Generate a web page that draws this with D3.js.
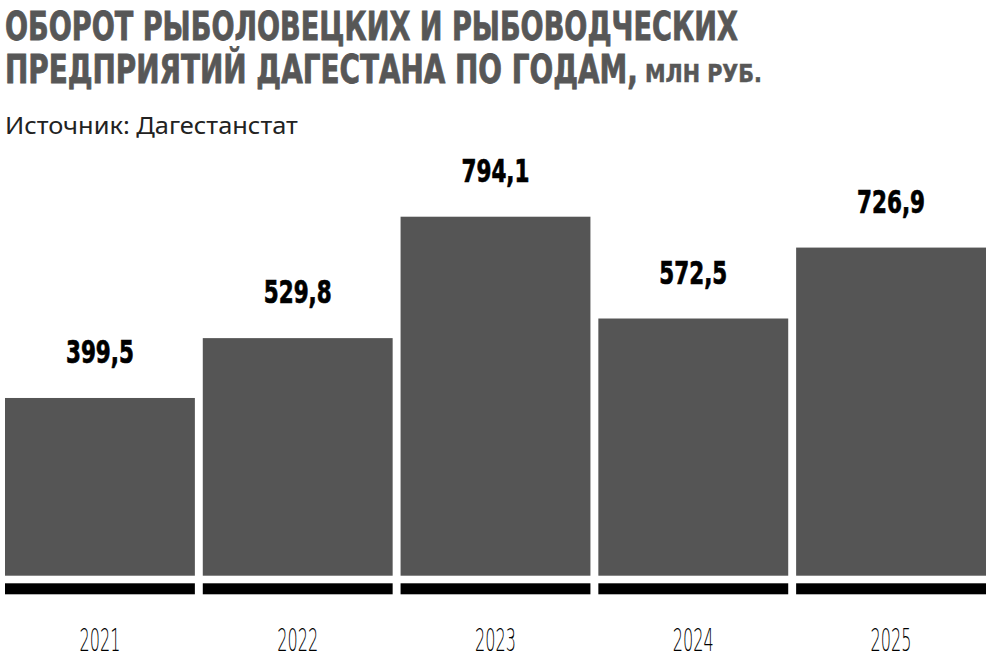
<!DOCTYPE html>
<html>
<head>
<meta charset="utf-8">
<script src="https://cdn.jsdelivr.net/npm/d3@7"></script>
<style>
  body { margin: 0; background: #fff; }
  svg { display: block; }
</style>
</head>
<body>
<div id="chart"></div>
<script>
// data
var years = ["2021", "2022", "2023", "2024", "2025"];
var values = [399.5, 529.8, 794.1, 572.5, 726.9];
var valueLabels = ["399,5", "529,8", "794,1", "572,5", "726,9"];

var titleLine1 = "ОБОРОТ РЫБОЛОВЕЦКИХ И РЫБОВОДЧЕСКИХ";
var titleLine2 = "ПРЕДПРИЯТИЙ ДАГЕСТАНА ПО ГОДАМ,";
var titleUnit = "МЛН РУБ.";
var sourceText = "Источник: Дагестанстат";

var width = 1000, height = 667;
var barBottom = 575.7;
var boldFont = "'Liberation Sans Narrow', 'DejaVu Sans Condensed', Arial, sans-serif";

var svg = d3.select("#chart")
    .append("svg")
    .attr("width", width)
    .attr("height", height);

// squeeze a text horizontally so it spans w pixels from its anchor
function squeeze(sel, x, y, w, anchor) {
    sel.each(function() {
        var natural = this.getComputedTextLength();
        var k = w / natural;
        d3.select(this)
            .attr("x", 0).attr("y", 0)
            .attr("text-anchor", anchor || "start")
            .attr("transform", "translate(" + x + "," + y + ") scale(" + k + ",1)");
    });
}

// title
var t1 = svg.append("text")
    .attr("font-family", boldFont)
    .attr("font-weight", "bold")
    .attr("font-size", 39)
    .attr("fill", "#575757")
    .attr("stroke", "#575757")
    .attr("stroke-width", 0.8)
    .text(titleLine1);
squeeze(t1, 5, 40, 733);

var t2 = svg.append("text")
    .attr("font-family", boldFont)
    .attr("font-weight", "bold")
    .attr("font-size", 39)
    .attr("fill", "#575757")
    .attr("stroke", "#575757")
    .attr("stroke-width", 0.8)
    .text(titleLine2);
squeeze(t2, 5, 83, 633);

var t3 = svg.append("text")
    .attr("font-family", boldFont)
    .attr("font-weight", "bold")
    .attr("font-size", 25)
    .attr("fill", "#575757")
    .attr("stroke", "#575757")
    .attr("stroke-width", 0.5)
    .text(titleUnit);
squeeze(t3, 645, 82, 117);

var src = svg.append("text")
    .attr("font-family", "'Noto Sans', 'Open Sans', sans-serif")
    .attr("font-size", 24)
    .attr("fill", "#222")
    .text(sourceText);
squeeze(src, 5, 134, 293);

// scales
var x = d3.scaleBand()
    .domain(years)
    .range([5, 986])
    .paddingInner(0.04)
    .paddingOuter(0);

var y = d3.scaleLinear()
    .domain([0, 800])
    .range([581.5, 214]);

var data = years.map(function(d, i) {
    return {year: d, value: values[i], label: valueLabels[i]};
});

// bars
svg.selectAll(".bar")
    .data(data)
    .enter()
    .append("rect")
    .attr("class", "bar")
    .attr("x", function(d) { return x(d.year); })
    .attr("y", function(d) { return y(d.value); })
    .attr("width", x.bandwidth())
    .attr("height", function(d) { return barBottom - y(d.value); })
    .attr("fill", "#555555");

// black base strips
svg.selectAll(".base")
    .data(data)
    .enter()
    .append("rect")
    .attr("class", "base")
    .attr("x", function(d) { return x(d.year); })
    .attr("y", 583.3)
    .attr("width", x.bandwidth())
    .attr("height", 11)
    .attr("fill", "#000");

// value labels
svg.selectAll(".val")
    .data(data)
    .enter()
    .append("text")
    .attr("class", "val")
    .attr("font-family", boldFont)
    .attr("font-weight", "bold")
    .attr("font-size", 32)
    .attr("fill", "#000")
    .attr("stroke", "#000")
    .attr("stroke-width", 0.7)
    .text(function(d) { return d.label; })
    .each(function(d) {
        squeeze(d3.select(this), x(d.year) + x.bandwidth() / 2, y(d.value) - 35, 68, "middle");
    });

// year labels
svg.selectAll(".year")
    .data(data)
    .enter()
    .append("text")
    .attr("class", "year")
    .attr("font-family", "'DejaVu Sans', sans-serif")
    .attr("font-weight", 200)
    .attr("font-size", 32)
    .attr("fill", "#000")
    .text(function(d) { return d.year; })
    .each(function(d) {
        squeeze(d3.select(this), x(d.year) + x.bandwidth() / 2, 651, 41, "middle");
    });
</script>
</body>
</html>
